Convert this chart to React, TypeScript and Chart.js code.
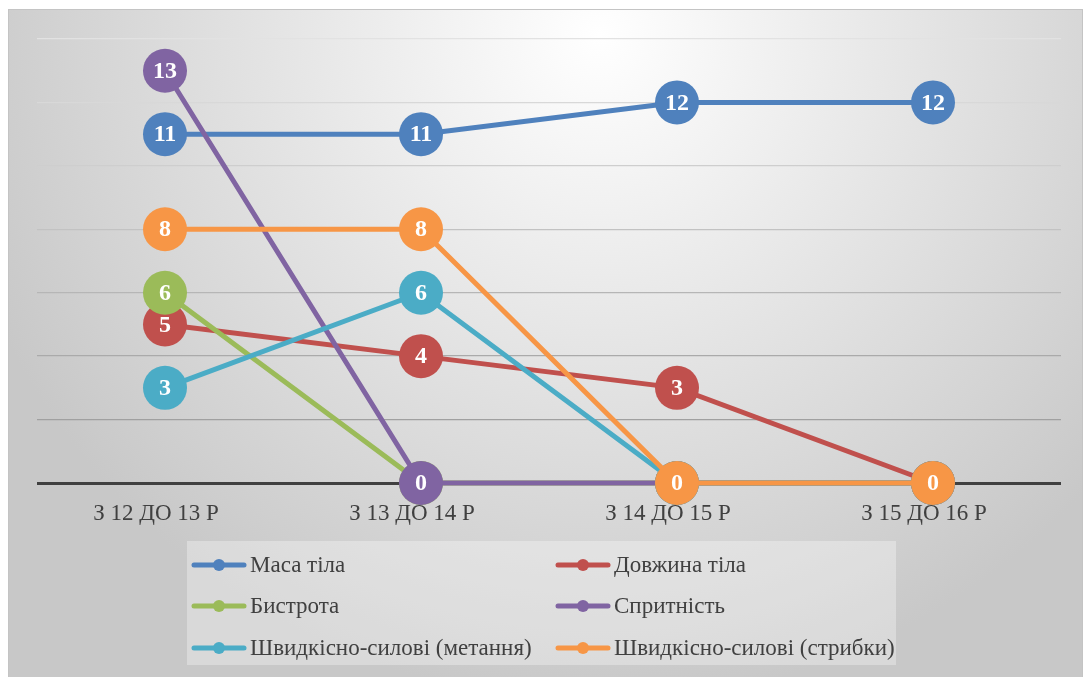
import React, { useEffect, useRef } from "react";
import { Chart, registerables } from "chart.js";

Chart.register(...registerables);

const categories = ["З 12 ДО 13 Р", "З 13 ДО 14 Р", "З 14 ДО 15 Р", "З 15 ДО 16 Р"];
const seriesNames = [
  "Маса тіла",
  "Довжина тіла",
  "Бистрота",
  "Спритність",
  "Швидкісно-силові (метання)",
  "Швидкісно-силові (стрибки)",
];
const masaTila = [11, 11, 12, 12];
const dovzhynaTila = [5, 4, 3, 0];
const bystrota = [6, 0, 0, 0];
const spritnist = [13, 0, 0, 0];
const metannia = [3, 6, 0, 0];
const strybky = [8, 8, 0, 0];
const seriesValues = [masaTila, dovzhynaTila, bystrota, spritnist, metannia, strybky];
const seriesColors = ["#4f81bd", "#c0504d", "#9bbb59", "#8064a2", "#4bacc6", "#f79646"];
const yTicks = { min: 0, max: 14, step: 2 };

const SERIF = "'Liberation Serif', 'Times New Roman', serif";

const gridShade: Record<number, string> = {
  14: "#e2e2e2",
  12: "#d8d8d8",
  10: "#cecece",
  8: "#c2c2c2",
  6: "#b6b6b6",
  4: "#aaaaaa",
  2: "#a0a0a0",
};

const bgPlugin = {
  id: "bgPlugin",
  beforeDraw(chart: any) {
    const { ctx, width, height } = chart;
    ctx.save();
    const g = ctx.createRadialGradient(width * 0.55, height * 0.04, 0, width * 0.55, height * 0.04, width * 0.62);
    g.addColorStop(0, "#ffffff");
    g.addColorStop(1, "#c8c8c8");
    ctx.fillStyle = g;
    ctx.fillRect(0, 0, width, height);
    ctx.strokeStyle = "#c4c4c4";
    ctx.lineWidth = 1;
    ctx.strokeRect(0.5, 0.5, width - 1, height + 10);
    ctx.restore();
  },
};

const labelPlugin = {
  id: "labelPlugin",
  afterDatasetDraw(chart: any, args: any) {
    const { ctx } = chart;
    const ds = chart.data.datasets[args.index];
    ctx.save();
    ctx.fillStyle = "#ffffff";
    ctx.font = `bold 24px ${SERIF}`;
    ctx.textAlign = "center";
    ctx.textBaseline = "middle";
    args.meta.data.forEach((el: any, i: number) => {
      ctx.fillText(String(ds.data[i]), el.x, el.y + 1);
    });
    ctx.restore();
  },
};

const legendPlugin = {
  id: "customLegend",
  afterDraw(chart: any) {
    const { ctx } = chart;
    const box = { x: 179, y: 532, w: 709, h: 124 };
    const rows = [556, 597, 639];
    const cols = [184, 548];
    ctx.save();
    ctx.fillStyle = "rgba(255,255,255,0.32)";
    ctx.fillRect(box.x, box.y, box.w, box.h);
    chart.data.datasets.forEach((ds: any, i: number) => {
      const cx = cols[i % 2];
      const cy = rows[Math.floor(i / 2)];
      ctx.strokeStyle = ds.borderColor;
      ctx.lineWidth = 5;
      ctx.lineCap = "round";
      ctx.beginPath();
      ctx.moveTo(cx + 2, cy);
      ctx.lineTo(cx + 52, cy);
      ctx.stroke();
      ctx.fillStyle = ds.borderColor;
      ctx.beginPath();
      ctx.arc(cx + 27, cy, 6, 0, Math.PI * 2);
      ctx.fill();
      ctx.fillStyle = "#404040";
      ctx.font = `23px ${SERIF}`;
      ctx.textAlign = "left";
      ctx.textBaseline = "middle";
      ctx.fillText(ds.label, cx + 58, cy + 1);
    });
    ctx.restore();
  },
};

export default function App() {
  const ref = useRef<HTMLCanvasElement | null>(null);

  useEffect(() => {
    if (!ref.current) return;
    const n = seriesValues.length;
    const chart = new Chart(ref.current, {
      type: "line",
      data: {
        labels: categories,
        datasets: seriesValues.map((vals, i) => ({
          label: seriesNames[i],
          data: vals,
          borderColor: seriesColors[i],
          backgroundColor: seriesColors[i],
          pointBackgroundColor: seriesColors[i],
          pointBorderWidth: 0,
          pointRadius: 22,
          pointHoverRadius: 22,
          borderWidth: 5,
          tension: 0,
          clip: false as any,
          order: n - i,
        })),
      },
      options: {
        animation: false,
        responsive: true,
        maintainAspectRatio: false,
        layout: { padding: { left: 29, right: 20, top: 30, bottom: 0 } },
        plugins: {
          legend: { display: false },
          tooltip: { enabled: false },
          title: { display: false },
        },
        events: [],
        scales: {
          x: {
            offset: true,
            grid: { display: false, drawTicks: false },
            border: { display: false },
            ticks: {
              color: "#404040",
              font: { family: SERIF, size: 23 },
              padding: 17,
              labelOffset: -9,
              maxRotation: 0,
            },
            afterFit(scale: any) {
              scale.height = 194;
            },
          },
          y: {
            min: yTicks.min,
            max: yTicks.max,
            ticks: { display: false, stepSize: yTicks.step },
            border: { display: false },
            grid: {
              drawTicks: false,
              color: (c: any) => (c.tick && c.tick.value === 0 ? "#404040" : gridShade[c.tick?.value] || "#c0c0c0"),
              lineWidth: (c: any) => (c.tick && c.tick.value === 0 ? 3 : 1.3),
            },
            afterFit(scale: any) {
              scale.width = 0;
            },
          },
        },
      },
      plugins: [bgPlugin, labelPlugin, legendPlugin],
    });
    return () => chart.destroy();
  }, []);

  return (
    <div style={{ position: "fixed", left: 8, top: 9, width: 1075, height: 668 }}>
      <canvas ref={ref} />
    </div>
  );
}
